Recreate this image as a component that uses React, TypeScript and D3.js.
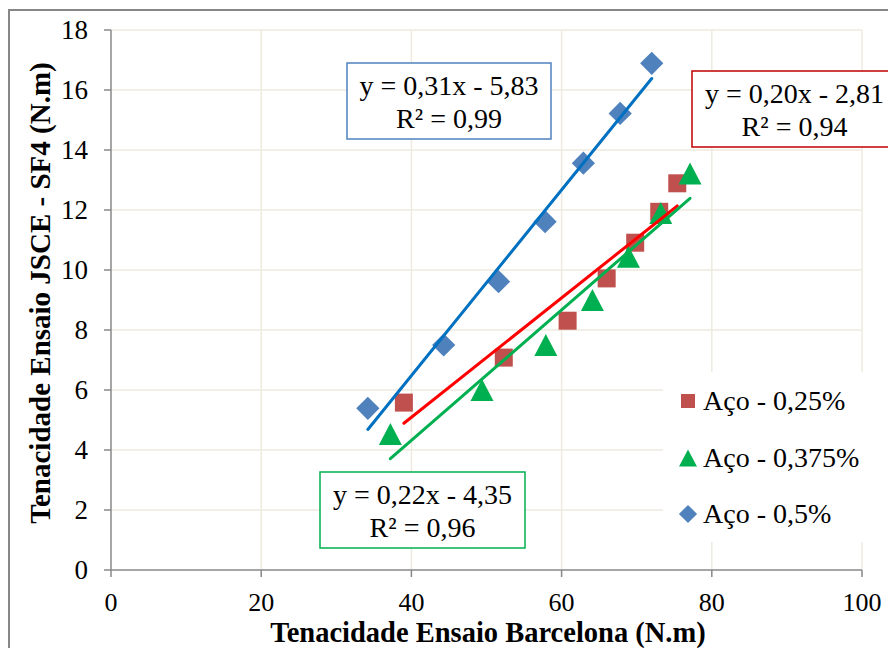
import React from "react";
import * as d3 from "d3";

// ---- data ----
const series025X = [39.0, 52.3, 60.8, 66.0, 69.8, 73.0, 75.4];
const series025Y = [5.58, 7.08, 8.31, 9.72, 10.91, 11.94, 12.89];
const series0375X = [37.2, 49.4, 57.9, 64.1, 68.9, 73.2, 77.1];
const series0375Y = [4.53, 6.0, 7.5, 9.0, 10.44, 11.9, 13.22];
const series05X = [34.2, 44.3, 51.6, 57.8, 62.9, 67.8, 72.0];
const series05Y = [5.39, 7.5, 9.61, 11.61, 13.56, 15.22, 16.89];

const seriesNames = ["Aço - 0,25%", "Aço - 0,375%", "Aço - 0,5%"];
// trendline coefficients [slope, intercept] for 0,25% / 0,375% / 0,5%
const trendSlopes = [0.199, 0.2175, 0.3095];
const trendIntercepts = [-2.87, -4.38, -5.9];
const trendEquations = ["y = 0,20x - 2,81", "y = 0,22x - 4,35", "y = 0,31x - 5,83"];
const trendR2 = ["R² = 0,94", "R² = 0,96", "R² = 0,99"];

const xTicks = [0, 20, 40, 60, 80, 100];
const yTicks = [0, 2, 4, 6, 8, 10, 12, 14, 16, 18];

const xTitle = "Tenacidade Ensaio Barcelona (N.m)";
const yTitle = "Tenacidade Ensaio JSCE - SF4 (N.m)";

const FONT = "'Liberation Serif', 'Times New Roman', serif";

export default function App() {
  const W = 888;
  const H = 648;
  const x = d3.scaleLinear().domain([0, 100]).range([111, 862]);
  const y = d3.scaleLinear().domain([0, 18]).range([570, 30]);

  const markerColors = ["#C0504D", "#00B050", "#4F81BD"];
  const lineColors = ["#FF0000", "#00B050", "#0070C0"];
  const boxColors = ["#C00000", "#00B050", "#4F81BD"];
  const xs = [series025X, series0375X, series05X];
  const ys = [series025Y, series0375Y, series05Y];

  const squarePath = d3.symbol(d3.symbolSquare, 324)()!;
  const diamondPath = d3.symbol(d3.symbolSquare, 270)()!;
  const triPath = "M0,-11L11.5,11L-11.5,11Z";

  const marker = (k: number, cx: number, cy: number, key: any, scale = 1) => {
    if (k === 0)
      return <path key={key} d={squarePath} transform={`translate(${cx},${cy}) scale(${scale})`} fill={markerColors[0]} />;
    if (k === 1)
      return <path key={key} d={triPath} transform={`translate(${cx},${cy}) scale(${scale})`} fill={markerColors[1]} />;
    return <path key={key} d={diamondPath} transform={`translate(${cx},${cy}) rotate(45) scale(${scale})`} fill={markerColors[2]} />;
  };

  const line = d3.line<[number, number]>().x((d) => x(d[0])).y((d) => y(d[1]));

  // annotation boxes (order: 0,25% / 0,375% / 0,5%)
  const boxes = [
    { x0: 692, y0: 71, w: 205, h: 76 },
    { x0: 320, y0: 472, w: 205, h: 76 },
    { x0: 347, y0: 63, w: 204, h: 76 },
  ];

  const legendRows = [401, 458, 514];

  return (
    <div style={{ position: "absolute", left: 0, top: 0, width: W, height: H, background: "#fff" }}>
      <svg width={W} height={H} style={{ display: "block" }} fontFamily={FONT}>
        <rect x={0} y={0} width={W} height={H} fill="#fff" />
        <rect x={9} y={10} width={1000} height={1000} fill="#fff" stroke="#878787" strokeWidth={2} />

        {/* gridlines */}
        {yTicks.filter((t) => t > 0).map((t) => (
          <line key={"gy" + t} x1={x(0)} x2={x(100)} y1={y(t)} y2={y(t)} stroke="#EEEADF" strokeWidth={1.5} />
        ))}
        {xTicks.filter((t) => t > 0).map((t) => (
          <line key={"gx" + t} x1={x(t)} x2={x(t)} y1={y(0)} y2={y(18)} stroke="#EEEADF" strokeWidth={1.5} />
        ))}

        {/* axes */}
        <line x1={x(0)} x2={x(0)} y1={y(0)} y2={y(18)} stroke="#888" strokeWidth={1.5} />
        <line x1={x(0)} x2={x(100)} y1={y(0)} y2={y(0)} stroke="#888" strokeWidth={1.5} />
        {yTicks.map((t) => (
          <line key={"ty" + t} x1={x(0) - 7} x2={x(0)} y1={y(t)} y2={y(t)} stroke="#888" strokeWidth={1.5} />
        ))}
        {xTicks.map((t) => (
          <line key={"tx" + t} x1={x(t)} x2={x(t)} y1={y(0)} y2={y(0) + 7} stroke="#888" strokeWidth={1.5} />
        ))}
        {yTicks.map((t) => (
          <text key={"ly" + t} x={88} y={y(t)} dy="0.34em" textAnchor="end" fontSize={27} fill="#000">
            {t}
          </text>
        ))}
        {xTicks.map((t) => (
          <text key={"lx" + t} x={x(t)} y={611} textAnchor="middle" fontSize={26} fill="#000">
            {t}
          </text>
        ))}

        {/* axis titles */}
        <text x={488} y={641.5} textAnchor="middle" fontSize={28.5} fontWeight="bold" fill="#000">
          {xTitle}
        </text>
        <text transform={`translate(50,293) rotate(-90)`} textAnchor="middle" fontSize={29} fontWeight="bold" fill="#000">
          {yTitle}
        </text>

        {/* legend background */}
        <rect x={663} y={372} width={240} height={170} fill="#fff" />

        {/* markers */}
        {xs.map((sx, k) => (
          <g key={"s" + k}>{sx.map((v, i) => marker(k, x(v), y(ys[k][i]), i))}</g>
        ))}

        {/* trendlines */}
        {xs.map((sx, k) => {
          const lo = d3.min(sx)!;
          const hi = d3.max(sx)!;
          const pts: [number, number][] = [
            [lo, trendSlopes[k] * lo + trendIntercepts[k]],
            [hi, trendSlopes[k] * hi + trendIntercepts[k]],
          ];
          return <path key={"tl" + k} d={line(pts)!} stroke={lineColors[k]} strokeWidth={3} fill="none" strokeLinecap="round" />;
        })}

        {/* equation boxes */}
        {boxes.map((b, k) => (
          <g key={"b" + k}>
            <rect x={b.x0} y={b.y0} width={b.w} height={b.h} fill="#fff" stroke={boxColors[k]} strokeWidth={1.5} />
            <text x={b.x0 + b.w / 2} y={b.y0 + 32} textAnchor="middle" fontSize={28} fill="#000">
              {trendEquations[k]}
            </text>
            <text x={b.x0 + b.w / 2} y={b.y0 + 65} textAnchor="middle" fontSize={28} fill="#000">
              {trendR2[k]}
            </text>
          </g>
        ))}

        {/* legend */}
        {seriesNames.map((name, k) => (
          <g key={"lg" + k}>
            {marker(k, 688, legendRows[k], "m", 0.78)}
            <text x={703} y={legendRows[k] + 9} fontSize={28} fill="#000">
              {name}
            </text>
          </g>
        ))}
      </svg>
    </div>
  );
}
